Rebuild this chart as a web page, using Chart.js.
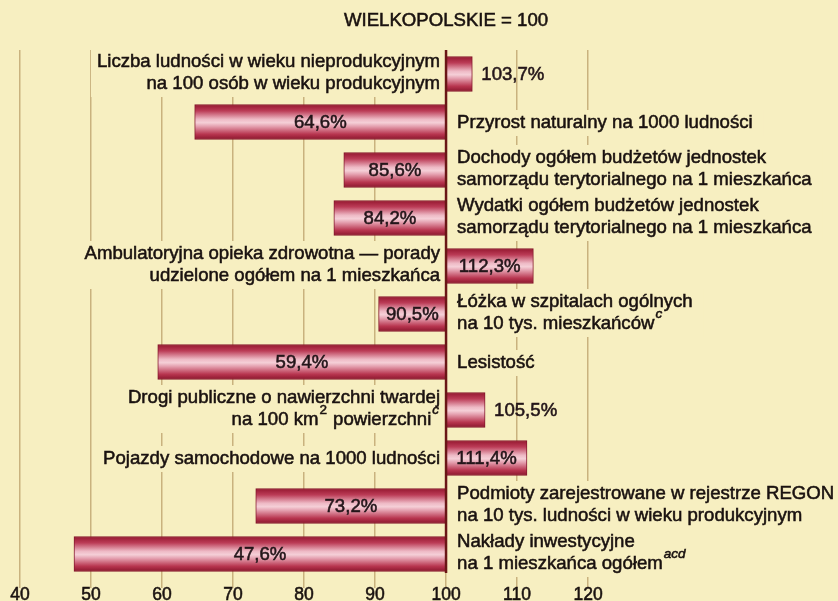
<!DOCTYPE html>
<html><head><meta charset="utf-8">
<script src="https://cdn.jsdelivr.net/npm/chart.js@4"></script>
<style>html,body{margin:0;padding:0;background:#f7efc1;} #wrap{width:838px;height:601px;overflow:hidden;}</style>
</head><body><div id="wrap"><canvas id="c" width="838" height="601"></canvas></div>
<script>
const title = 'WIELKOPOLSKIE = 100';
const categories = [
  ['Liczba ludności w wieku nieprodukcyjnym', 'na 100 osób w wieku produkcyjnym'],
  ['Przyrost naturalny na 1000 ludności'],
  ['Dochody ogółem budżetów jednostek', 'samorządu terytorialnego na 1 mieszkańca'],
  ['Wydatki ogółem budżetów jednostek', 'samorządu terytorialnego na 1 mieszkańca'],
  ['Ambulatoryjna opieka zdrowotna — porady', 'udzielone ogółem na 1 mieszkańca'],
  ['Łóżka w szpitalach ogólnych', 'na 10 tys. mieszkańców^c'],
  ['Lesistość'],
  ['Drogi publiczne o nawierzchni twardej', 'na 100 km^2 powierzchni^c'],
  ['Pojazdy samochodowe na 1000 ludności'],
  ['Podmioty zarejestrowane w rejestrze REGON', 'na 10 tys. ludności w wieku produkcyjnym'],
  ['Nakłady inwestycyjne', 'na 1 mieszkańca ogółem^acd']
];
const values = [103.7, 64.6, 85.6, 84.2, 112.3, 90.5, 59.4, 105.5, 111.4, 73.2, 47.6];
const valueLabels = ['103,7%', '64,6%', '85,6%', '84,2%', '112,3%', '90,5%', '59,4%', '105,5%', '111,4%', '73,2%', '47,6%'];
const baseValue = 100;
const tickValues = [40, 50, 60, 70, 80, 90, 100, 110, 120];
const tickLabels = ['40', '50', '60', '70', '80', '90', '100', '110', '120'];

const BG = '#f7efc1';
const FONT = '"Liberation Sans", Arial, Helvetica, sans-serif';
const MAIN = '18.6px ' + FONT;
const TXT = '#1a1210';
const STROKE = 0.55;

function segs(line) {
  const parts = []; const re = /\^(\w+)/g; let last = 0, m;
  while ((m = re.exec(line))) {
    if (m.index > last) parts.push({ t: line.slice(last, m.index), sup: false });
    parts.push({ t: m[1], sup: true });
    last = re.lastIndex;
  }
  if (last < line.length) parts.push({ t: line.slice(last), sup: false });
  return parts;
}
function supFont(t) { return (/[a-z]/.test(t) ? 'italic ' : '') + '13.5px ' + FONT; }
function lineWidth(ctx, line) {
  let w = 0;
  for (const p of segs(line)) { ctx.font = p.sup ? supFont(p.t) : MAIN; w += ctx.measureText(p.t).width + (p.sup ? 2 : 0); }
  return w;
}
function txt(ctx, s, x, y) { ctx.fillText(s, x, y); ctx.strokeText(s, x, y); }
function drawLine(ctx, line, x, y) {
  for (const p of segs(line)) {
    if (p.sup) { ctx.font = supFont(p.t); x += 1; txt(ctx, p.t, x, y - 10); x += ctx.measureText(p.t).width + 1; }
    else { ctx.font = MAIN; txt(ctx, p.t, x, y); x += ctx.measureText(p.t).width; }
  }
}

const overlay = {
  id: 'overlay',
  afterDatasetsDraw(chart) {
    const ctx = chart.ctx, xs = chart.scales.x, ys = chart.scales.y, ca = chart.chartArea;
    const x0 = xs.getPixelForValue(baseValue);
    ctx.save();
    ctx.textBaseline = 'middle';
    ctx.lineWidth = STROKE;
    categories.forEach((lines, i) => {
      const n = lines.length;
      const yc = ys.getPixelForValue(i) + (n === 1 ? 1 : -1);
      const left = values[i] > baseValue;
      const widths = lines.map(l => lineWidth(ctx, l));
      const maxW = Math.max(...widths);
      const y1 = yc - (n - 1) * 11;
      const bx = left ? x0 - 6 - maxW - 6 : x0 + 10;
      ctx.fillStyle = BG;
      ctx.fillRect(bx, y1 - 13, maxW + 12, (n - 1) * 22 + 26);
      ctx.fillStyle = TXT; ctx.strokeStyle = TXT;
      ctx.textAlign = 'left';
      lines.forEach((l, k) => {
        const x = left ? x0 - 6 - widths[k] : x0 + 11;
        drawLine(ctx, l, x, y1 + k * 22);
      });
    });
    // baseline at 100
    ctx.strokeStyle = '#6a1616';
    ctx.lineWidth = 2.5;
    ctx.beginPath(); ctx.moveTo(x0, ca.top); ctx.lineTo(x0, ca.bottom - 5); ctx.stroke();
    // values
    ctx.font = MAIN; ctx.fillStyle = '#24161a'; ctx.strokeStyle = '#24161a'; ctx.lineWidth = STROKE;
    values.forEach((v, i) => {
      const yc = ys.getPixelForValue(i) + 1;
      const xv = xs.getPixelForValue(v);
      const w = Math.abs(xv - x0);
      if (w > 60) { ctx.textAlign = 'center'; txt(ctx, valueLabels[i], (xv + x0) / 2, yc); }
      else { ctx.textAlign = 'left'; txt(ctx, valueLabels[i], xv + 9, yc); }
    });
    // x tick labels
    ctx.font = '17.5px ' + FONT; ctx.fillStyle = TXT; ctx.strokeStyle = TXT; ctx.textAlign = 'center';
    tickValues.forEach((v, k) => txt(ctx, tickLabels[k], xs.getPixelForValue(v), ca.bottom + 17));
    // title
    ctx.font = '18.6px ' + FONT; ctx.textAlign = 'center';
    txt(ctx, title, x0, 21);
    ctx.restore();
  }
};

const bgPlugin = {
  id: 'bg',
  beforeDraw(chart) { const c = chart.ctx; c.save(); c.fillStyle = BG; c.fillRect(0, 0, chart.width, chart.height); c.restore(); }
};

new Chart(document.getElementById('c'), {
  type: 'bar',
  data: {
    labels: categories.map(l => l.join(' ')),
    datasets: [{
      data: values.map(v => [baseValue, v]),
      backgroundColor: (c) => {
        const ch = c.chart, ys = ch.scales && ch.scales.y;
        if (!ys || !ch.chartArea) return '#c0405a';
        const yc = ys.getPixelForValue(c.dataIndex), h = 17.5;
        const g = ch.ctx.createLinearGradient(0, yc - h, 0, yc + h);
        g.addColorStop(0, '#95172f');
        g.addColorStop(0.18, '#bb3b56');
        g.addColorStop(0.42, '#eeb9c5');
        g.addColorStop(0.52, '#f5cfd7');
        g.addColorStop(0.62, '#e5a2b1');
        g.addColorStop(0.85, '#b8354f');
        g.addColorStop(1, '#8a162d');
        return g;
      },
      borderColor: '#84182c',
      borderWidth: 1,
      borderSkipped: false,
      barThickness: 35
    }]
  },
  options: {
    indexAxis: 'y',
    responsive: false,
    animation: false,
    devicePixelRatio: 1,
    layout: { padding: { top: 50, left: 20, right: 0, bottom: 13 } },
    plugins: { legend: { display: false }, tooltip: { enabled: false }, title: { display: false } },
    scales: {
      x: {
        type: 'linear', min: 40, max: 155.2,
        afterBuildTicks: (s) => { s.ticks = tickValues.map(v => ({ value: v })); },
        grid: { color: '#c9b27e', lineWidth: 1.5, drawTicks: true, tickLength: 10, tickColor: '#c9b27e' },
        border: { display: false },
        ticks: { display: false }
      },
      y: { display: false }
    }
  },
  plugins: [bgPlugin, overlay]
});
</script>
</body></html>
